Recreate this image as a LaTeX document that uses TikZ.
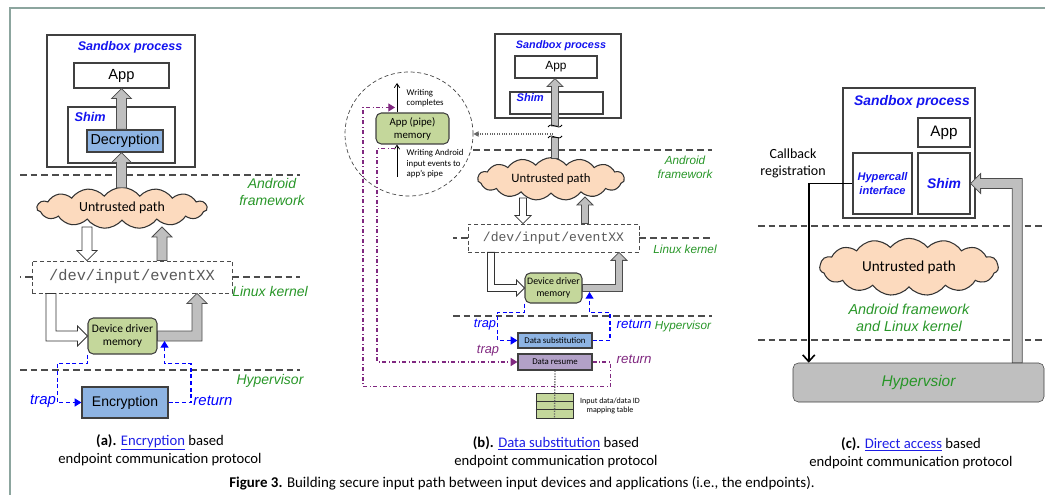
\documentclass[tikz,border=0pt]{standalone}
\usepackage{fontspec}
\setmainfont{Carlito}
\setsansfont{Liberation Sans}
\setmonofont{Liberation Mono}
\usetikzlibrary{positioning,calc,shapes.symbols,shapes.geometric,arrows.meta}

\definecolor{sbblue}{RGB}{20,20,240}
\definecolor{lblgreen}{RGB}{40,150,40}
\definecolor{boxblue}{RGB}{142,180,227}
\definecolor{memgreen}{RGB}{196,215,155}
\definecolor{resumepurple}{RGB}{178,161,199}
\definecolor{cloudpeach}{RGB}{252,218,190}
\definecolor{purp}{RGB}{128,40,128}
\definecolor{linkblue}{RGB}{30,30,230}
\definecolor{framecol}{RGB}{140,165,158}

\newcommand*\aS{3.75pt}
\newcommand*\aH{7.5pt}
\newcommand*\aL{7.5pt}
\newcommand\sz[1]{\fontsize{#1}{#1}\selectfont\baselineskip=1.2\baselineskip}

\tikzset{
  fatv/.style={to path={let \p1=(\tikztostart), \p2=(\tikztotarget), \n1={ifthenelse(\y2>\y1,1,-1)} in
      ({\x1-\aS},\y1) -- ({\x1-\aS},{\y2-(\n1)*\aL}) -- ({\x1-\aH},{\y2-(\n1)*\aL}) -- (\x1,\y2)
      -- ({\x1+\aH},{\y2-(\n1)*\aL}) -- ({\x1+\aS},{\y2-(\n1)*\aL}) -- ({\x1+\aS},\y1) -- cycle}},
  fatshaft/.style={to path={let \p1=(\tikztostart), \p2=(\tikztotarget) in
      ({\x1-\aS},\y1) rectangle ({\x1+\aS},\y2)}},
  elbowdr/.style={to path={let \p1=(\tikztostart), \p2=(\tikztotarget) in
      ({\x1-\aS},\y1) -- ({\x1-\aS},{\y2-\aS}) -- ({\x2-\aL},{\y2-\aS}) -- ({\x2-\aL},{\y2-\aH}) -- (\x2,\y2)
      -- ({\x2-\aL},{\y2+\aH}) -- ({\x2-\aL},{\y2+\aS}) -- ({\x1+\aS},{\y2+\aS}) -- ({\x1+\aS},\y1) -- cycle}},
  elbowru/.style={to path={let \p1=(\tikztostart), \p2=(\tikztotarget) in
      (\x1,{\y1-\aS}) -- ({\x2+\aS},{\y1-\aS}) -- ({\x2+\aS},{\y2-\aL}) -- ({\x2+\aH},{\y2-\aL}) -- (\x2,\y2)
      -- ({\x2-\aH},{\y2-\aL}) -- ({\x2-\aS},{\y2-\aL}) -- ({\x2-\aS},{\y1+\aS}) -- (\x1,{\y1+\aS}) -- cycle}},
  elbowul/.style={to path={let \p1=(\tikztostart), \p2=(\tikztotarget) in
      ({\x1+\aS},\y1) -- ({\x1+\aS},{\y2+\aS}) -- ({\x2+\aL},{\y2+\aS}) -- ({\x2+\aL},{\y2+\aH}) -- (\x2,\y2)
      -- ({\x2+\aL},{\y2-\aH}) -- ({\x2+\aL},{\y2-\aS}) -- ({\x1-\aS},{\y2-\aS}) -- ({\x1-\aS},\y1) -- cycle}},
}

\begin{document}
\begin{tikzpicture}[x=0.75pt, y=-0.75pt,
    box/.style={draw=black!75, fill=white, line width=0.9pt, inner sep=0},
    sbtitle/.style={font=\sffamily\bfseries\itshape\sz{#1}, text=sbblue},
    arial/.style={font=\sffamily\sz{#1}},
    cal/.style={font=\sz{#1}},
    mono/.style={font=\ttfamily\sz{#1}},
    lay/.style={font=\sffamily\itshape\sz{#1}, text=lblgreen, align=center},
    flowblue/.style={font=\sffamily\itshape\sz{#1}, text=blue},
    flowpurp/.style={font=\sffamily\itshape\sz{#1}, text=purp},
    devbox/.style={draw=black!70, densely dashed, line width=0.6pt, fill=white, text=black!65, inner sep=0},
    memnode/.style={draw=black!75, fill=memgreen, rounded corners=4pt, align=center, inner sep=0, line width=0.8pt},
    cloudnode/.style={cloud, cloud puffs=15, cloud puff arc=105, cloud ignores aspect, draw=black!80, fill=cloudpeach, inner sep=0, line width=0.8pt},
    greyarr/.style={draw=black!70, fill=gray!50, line width=0.6pt},
    whitearr/.style={draw=black!80, fill=white, line width=0.6pt},
    layer/.style={draw=black!70, dash pattern=on 5pt off 3pt, line width=1pt},
    trapA/.style={draw=blue, densely dashed, line width=0.8pt, -{Triangle[length=5pt,width=6pt]}},
    purpl/.style={draw=purp, dash dot, line width=0.8pt, -{Triangle[length=5pt,width=6pt]}},
    thinarr/.style={black, line width=0.6pt, -{Straight Barb[length=3pt,width=4pt]}},
    dotarr/.style={black!60, densely dotted, line width=0.8pt, -{Triangle[length=4pt,width=4pt]}},
    caption/.style={font=\sz{11}, align=center}]
\useasboundingbox (0,0) rectangle (1045,495);
\draw[framecol, line width=1.5pt] (10,495) -- (10,8) -- (1045,8);

% (a) encryption based
\draw[layer] (20,175) -- (300,175);
\draw[layer] (20,370) -- (300,370);
\node[box, minimum width=111pt, minimum height=99pt] (sbA) at (121,101) {};
\node[sbtitle=9.4] (sbAt) at (130,47) {Sandbox process};
\node[box, arial=11, minimum width=71.25pt, minimum height=18.75pt] (appA) at (121.5,75.5) {App};
\node[box, minimum width=80.25pt, minimum height=42pt] (shimA) at (121.5,135) {};
\node[sbtitle=9.5, anchor=west] (shimAt) at (70,117) {Shim};
\node[box, fill=boxblue, arial=10.8, minimum width=57pt, minimum height=16.5pt] (decA) at (125,141) {Decryption};
\node[lay=10.5] (andA) at (272,192) {Android\\framework};
\node[cloudnode, minimum width=127.5pt, minimum height=31pt] (cloudA) at (122,208) {};
\node[cal=10.4] (cloudAt) at (cloudA) {Untrusted path};
\draw[greyarr] ($(cloudA.north -| appA.south)+(0,1)$) to[fatv] (decA.south -| appA.south);
\draw[greyarr] (decA.north -| appA.south) to[fatv] (appA.south);
\node[devbox, mono=11.5, minimum width=150pt, minimum height=24pt] (devA) at (132,277) {/dev/input/eventXX};
\draw[layer] (devA.west) -- ++(-12,0);
\draw[layer] (devA.east) -- (300,277);
\node[lay=10.5] (linA) at (270,291) {Linux kernel};
\coordinate (wA) at (87,227);
\coordinate (gA) at (162,227);
\draw[whitearr] (wA) to[fatv] (wA |- devA.north);
\draw[greyarr] (gA |- devA.north) to[fatv] (gA);
\node[memnode, cal=8.6, minimum width=51.75pt, minimum height=27pt] (drvA) at (122.5,336) {Device driver\\memory};
\coordinate (wA2) at (51,293);
\coordinate (gA2) at (197,293);
\draw[whitearr] (devA.south -| wA2) to[elbowdr] (drvA.west);
\draw[greyarr] (drvA.east) to[elbowru] (devA.south -| gA2);
\node[lay=10.5] (hypA) at (270,381) {Hypervisor};
\node[box, fill=boxblue, arial=10.5, minimum width=64.5pt, minimum height=23.25pt] (encA) at (125,402.5) {Encryption};
\draw[trapA] (drvA.south west) -- ++(0,9) -| ($(encA.west)+(-24,0)$) -- (encA.west);
\draw[trapA] (encA.east) -| ($(drvA.south)+(68.5,9)$) -| ($(drvA.east)+(7,5)$);
\node[flowblue=11.2] (trapAt) at (43,401) {trap};
\node[flowblue=11.2] (retAt) at (213,401) {return};
\node[caption] (capA) at (160,450) {{\bfseries (a).} \textcolor{linkblue}{\underline{Encryption}} based\\endpoint communication protocol};

% (b) data substitution based
\begin{scope}
\renewcommand*\aS{2.6pt}\renewcommand*\aH{6pt}\renewcommand*\aL{6pt}
\draw[layer] (473,150) -- (712,150);
\draw[layer] (453,316) -- (712,316);
\node[box, minimum width=94.5pt, minimum height=63pt] (sbB) at (558,76) {};
\node[sbtitle=8.1] (sbBt) at (561,46) {Sandbox process};
\node[box, arial=8.9, minimum width=61.5pt, minimum height=16.5pt] (appB) at (556,67) {App};
\node[box, minimum width=69.75pt, minimum height=16.5pt] (shimB) at (556.5,103) {};
\node[sbtitle=8.3, anchor=west] (shimBt) at (512,98) {Shim};
\node[cloudnode, minimum width=110pt, minimum height=32pt] (cloudB) at (551,179) {};
\node[cal=9.6] (cloudBt) at (cloudB) {Untrusted path};
\coordinate (brkU) at (555,126);
\coordinate (brkL) at (555,137);
\coordinate (brkD) at (553,134);
\draw[greyarr] (brkU) to[fatv] (appB.south);
\draw[greyarr] ($(cloudB.north -| brkL)+(0,1)$) to[fatshaft] (brkL);
\draw[line width=0.6pt] ($(brkU)+(-7,1)$) .. controls +(4,-6) and +(-4,6) .. ($(brkU)+(7,-1)$);
\draw[line width=0.6pt] ($(brkL)+(-7,1)$) .. controls +(4,-6) and +(-4,6) .. ($(brkL)+(7,-1)$);
\node[ellipse, draw=black!75, densely dashed, line width=0.5pt, minimum width=96pt, minimum height=93pt] (zoomB) at (409,134) {};
\draw[dotarr] (brkD) -- (zoomB.east);
\node[memnode, cal=8.1, minimum width=54.75pt, minimum height=23.25pt] (pipeB) at (412.5,128.5) {App (pipe)\\memory};
\coordinate (wcTop) at (397,83);
\coordinate (waBot) at (397,177);
\draw[thinarr] (pipeB.north -| wcTop) -- (wcTop);
\draw[thinarr] (waBot) -- (pipeB.south -| waBot);
\node[cal=6.6, align=left, anchor=west] (wcT) at (402,98) {Writing\\completes};
\node[cal=6.6, align=left, anchor=west] (waT) at (402,164) {Writing Android\\input events to\\app’s pipe};
\node[lay=8.8] (andB) at (685,167) {Android\\framework};
\node[devbox, mono=9.8, minimum width=128.25pt, minimum height=21pt] (devB) at (553.5,238) {/dev/input/eventXX};
\draw[layer] (devB.west) -- ++(-15,0);
\draw[layer] (devB.east) -- (712,238);
\node[lay=8.8] (linB) at (685,249) {Linux kernel};
\coordinate (wB) at (523,198);
\coordinate (gB) at (585,197);
\draw[whitearr] (wB) to[fatv] (wB |- devB.north);
\draw[greyarr] (gB |- devB.north) to[fatv] (gB);
\node[memnode, cal=7.4, minimum width=42.75pt, minimum height=22.5pt] (drvB) at (553.5,288) {Device driver\\memory};
\coordinate (wB2) at (491,252);
\coordinate (gB2) at (619,252);
\draw[whitearr] (devB.south -| wB2) to[elbowdr] (drvB.west);
\draw[greyarr] (drvB.east) to[elbowru] (devB.south -| gB2);
\node[lay=8.8] (hypB) at (683,326) {Hypervisor};
\node[box, fill=boxblue, cal=6.6, minimum width=55.5pt, minimum height=11.25pt] (dsubB) at (555,340.5) {Data substitution};
\node[box, fill=resumepurple, cal=6.6, minimum width=55.5pt, minimum height=12pt] (dresB) at (555,362) {Data resume};
\draw[trapA] (drvB.south west) -- ++(0,9) -| ($(dsubB.west)+(-20,0)$) -- (dsubB.west);
\draw[trapA] (dsubB.east) -| ($(drvB.south)+(56.5,9)$) -| ($(drvB.east)+(7,4)$);
\node[flowblue=9.6] (trapBt) at (485,325) {trap};
\node[flowblue=10, anchor=west] (retBt) at (612,324) {return};
\draw[purpl] ($(pipeB.south -| waBot)+(-2,4)$) -- ++(-18,0) |- (dresB.west);
\draw[purpl] (dresB.east) -| ($(dresB.south east)+(18,16)$) -| ($(pipeB.north -| wcTop)+(-34,-5)$) -- ($(pipeB.north -| wcTop)+(-2,-5)$);
\node[flowpurp=9.6] (trapPt) at (488,351) {trap};
\node[flowpurp=10, anchor=west] (retPt) at (612,359) {return};
\node[draw=black!80, fill=memgreen, minimum width=27.75pt, minimum height=18.75pt, inner sep=0] (tblB) at (554.5,405.5) {};
\draw[black!80] ($(tblB.north west)!1/3!(tblB.south west)$) -- ($(tblB.north east)!1/3!(tblB.south east)$);
\draw[black!80] ($(tblB.north west)!2/3!(tblB.south west)$) -- ($(tblB.north east)!2/3!(tblB.south east)$);
\draw[densely dotted, black!60, line width=1pt] (dresB.south) -- (tblB.south);
\node[cal=6, align=center] (tblT) at (610,406) {Input data/data ID\\mapping table};
\node[caption] (capB) at (556,452) {{\bfseries (b).} \textcolor{linkblue}{\underline{Data substitution}} based\\endpoint communication protocol};
\end{scope}

% (c) direct access based
\draw[layer] (758,226) -- (1045,226);
\draw[layer] (758,340) -- (1045,340);
\node[box, minimum width=99pt, minimum height=97.5pt] (sbC) at (909,153) {};
\node[sbtitle=10.4] (sbCt) at (912,102) {Sandbox process};
\node[box, arial=11.4, minimum width=39pt, minimum height=21.75pt] (appC) at (944,132.5) {App};
\node[box, sbtitle=8.3, align=center, minimum width=44.25pt, minimum height=45.75pt] (hyC) at (882.5,183.5) {Hypercall\\interface};
\node[box, sbtitle=10.4, minimum width=39pt, minimum height=45.75pt] (shimC) at (944,183.5) {Shim};
\node[cal=10.5, align=center] (cbC) at (793,163) {Callback\\registration};
\node[cloudnode, minimum width=134pt, minimum height=43pt] (cloudC) at (909,267) {};
\node[cal=11.4] (cloudCt) at (cloudC) {Untrusted path};
\node[lay=10.8] (andC) at (909,318) {Android framework\\and Linux kernel};
\node[rounded corners=4pt, draw=black!75, fill=gray!50, lay=11.6, minimum width=188.25pt, minimum height=29.25pt] (hvC) at (918.5,382.5) {Hypervsior};
\draw[line width=1.2pt, -{Straight Barb[length=5pt,width=9pt]}] (hyC.west) -| ($(hvC.north west)+(16,0)$);
\draw[greyarr] ($(hvC.north east)+(-27,0)$) to[elbowul] (shimC.east);
\node[caption] (capC) at (911,453) {{\bfseries (c).} \textcolor{linkblue}{\underline{Direct access}} based\\endpoint communication protocol};

\node[font=\sz{11.2}] (figcap) at (522,483) {\textbf{Figure 3.} Building secure input path between input devices and applications (i.e., the endpoints).};
\end{tikzpicture}
\end{document}
